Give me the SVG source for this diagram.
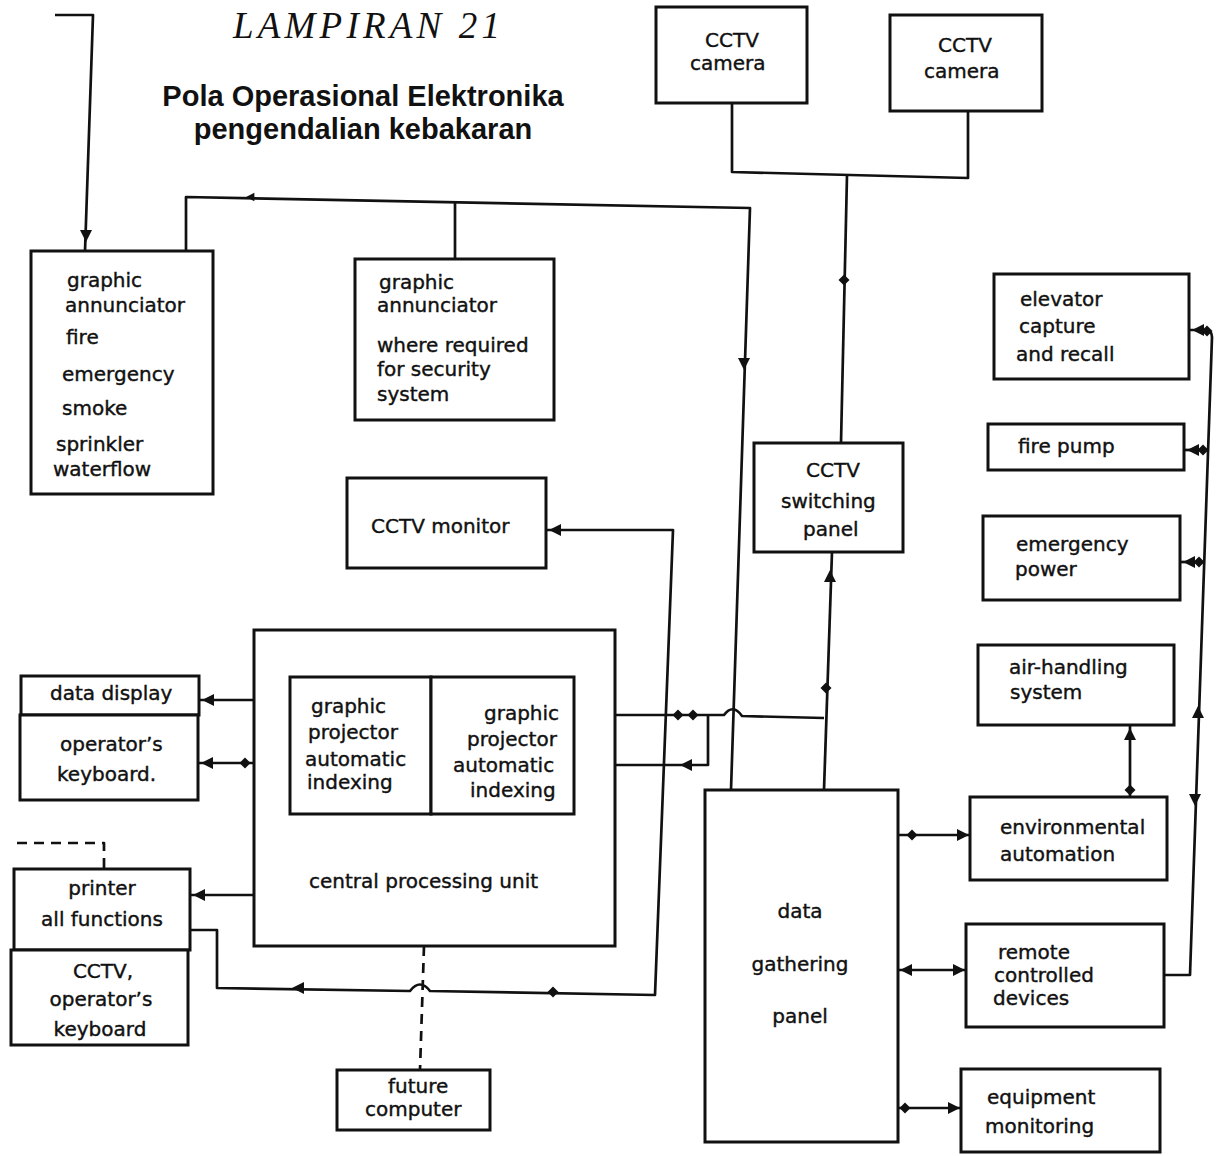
<svg xmlns="http://www.w3.org/2000/svg" xmlns:xlink="http://www.w3.org/1999/xlink" width="1221" height="1156" viewBox="0 0 1221 1156">
  <style>
    .box { fill: #fff; stroke: #111; stroke-width: 3; }
    .ln { fill: none; stroke: #111; stroke-width: 2.7; stroke-linejoin: round; }
    .dash { stroke-dasharray: 10 7; }
    .t { font-family: "DejaVu Sans", "Noto Sans", sans-serif; font-size: 20px; fill: #111; stroke: #111; stroke-width: 0.4; }
    .mk { fill: #111; }
    .title { font-family: "Liberation Sans", Arial, sans-serif; font-weight: bold; font-size: 29px; fill: #111; }
    .head { font-family: "Liberation Serif", serif; font-style: italic; font-size: 37px; fill: #111; }
  </style>
  <defs>
    <!-- arrowhead pointing along +x, tip at origin -->
    <path id="ah" class="mk" d="M0,0 L-12,-6 L-12,6 Z"/>
    <!-- small diamond junction marker -->
    <path id="dm" class="mk" d="M0,-5.5 L5.5,0 L0,5.5 L-5.5,0 Z"/>
  </defs>

  <rect width="1221" height="1156" fill="#fff"/>

  <!-- headings -->
  <text class="head" x="233" y="38" textLength="267" lengthAdjust="spacing">LAMPIRAN 21</text>
  <text class="title" x="363" y="106" text-anchor="middle">Pola Operasional Elektronika</text>
  <text class="title" x="363" y="139" text-anchor="middle">pengendalian kebakaran</text>

  <!-- connectors -->
  <g id="connectors">
    <path class="ln" d="M55,15 H93 L85,251"/>
    <path class="ln" d="M186,251 V197 L750,208 L731,790"/>
    <path class="ln" d="M455,202 V259"/>
    <path class="ln" d="M732,103 V172 L968,178 V111"/>
    <path class="ln" d="M847,175 L841,443"/>
    <path class="ln" d="M832,552 L824,790"/>
    <path class="ln" d="M615,715 H724 Q733,703 742,716 L824,718"/>
    <path class="ln" d="M574,765 H708 V715"/>
    <path class="ln" d="M546,530 H673 L655,995 L430,991 Q420,978 410,991 L217,988 V930 H190"/>
    <path class="ln" d="M199,700 H254"/>
    <path class="ln" d="M198,763 H254"/>
    <path class="ln" d="M190,895 H254"/>
    <path class="ln dash" d="M17,843 H104 V869"/>
    <path class="ln dash" d="M424,946 L420,1070"/>
    <path class="ln" d="M898,835 H970"/>
    <path class="ln" d="M898,970 H966"/>
    <path class="ln" d="M898,1108 H961"/>
    <path class="ln" d="M1130,725 V797"/>
    <path class="ln" d="M1189,330 H1205 Q1212,330 1212,337 L1190,975 H1164"/>
    <path class="ln" d="M1184,450 H1208"/>
    <path class="ln" d="M1180,562 H1204"/>

    <use xlink:href="#ah" transform="translate(86,242) rotate(90)"/>
    <use xlink:href="#ah" transform="translate(246,197) rotate(180) scale(0.7)"/>
    <use xlink:href="#ah" transform="translate(744,370) rotate(90)"/>
    <use xlink:href="#dm" transform="translate(844,280)"/>
    <use xlink:href="#ah" transform="translate(830,570) rotate(-90)"/>
    <use xlink:href="#dm" transform="translate(826,688)"/>
    <use xlink:href="#ah" transform="translate(549,530) rotate(180)"/>
    <use xlink:href="#ah" transform="translate(292,988) rotate(180)"/>
    <use xlink:href="#dm" transform="translate(553,992)"/>
    <use xlink:href="#ah" transform="translate(202,700) rotate(180)"/>
    <use xlink:href="#ah" transform="translate(201,763) rotate(180)"/>
    <use xlink:href="#dm" transform="translate(245,763)"/>
    <use xlink:href="#ah" transform="translate(193,895) rotate(180)"/>
    <use xlink:href="#dm" transform="translate(678,715)"/>
    <use xlink:href="#dm" transform="translate(693,715)"/>
    <use xlink:href="#ah" transform="translate(680,765) rotate(180)"/>
    <use xlink:href="#ah" transform="translate(1192,330) rotate(180)"/>
    <use xlink:href="#dm" transform="translate(1207,331)"/>
    <use xlink:href="#ah" transform="translate(1187,450) rotate(180)"/>
    <use xlink:href="#dm" transform="translate(1203,450)"/>
    <use xlink:href="#ah" transform="translate(1183,562) rotate(180)"/>
    <use xlink:href="#dm" transform="translate(1199,562)"/>
    <use xlink:href="#ah" transform="translate(1198,706) rotate(-90)"/>
    <use xlink:href="#ah" transform="translate(1195,806) rotate(90)"/>
    <use xlink:href="#ah" transform="translate(1130,728) rotate(-90)"/>
    <use xlink:href="#dm" transform="translate(1130,790)"/>
    <use xlink:href="#dm" transform="translate(912,835)"/>
    <use xlink:href="#ah" transform="translate(969,835)"/>
    <use xlink:href="#ah" transform="translate(900,970) rotate(180)"/>
    <use xlink:href="#ah" transform="translate(965,970)"/>
    <use xlink:href="#dm" transform="translate(905,1108)"/>
    <use xlink:href="#ah" transform="translate(960,1108)"/>
  </g>

  <!-- nodes -->
  <g id="annunciator-fire">
    <rect class="box" x="31" y="251" width="182" height="243"/>
    <text class="t" x="67" y="287">graphic</text>
    <text class="t" x="65" y="312">annunciator</text>
    <text class="t" x="66" y="344">fire</text>
    <text class="t" x="62" y="381">emergency</text>
    <text class="t" x="62" y="415">smoke</text>
    <text class="t" x="56" y="451">sprinkler</text>
    <text class="t" x="53" y="476">waterflow</text>
  </g>

  <g id="annunciator-security">
    <rect class="box" x="355" y="259" width="199" height="161"/>
    <text class="t" x="379" y="289">graphic</text>
    <text class="t" x="377" y="312">annunciator</text>
    <text class="t" x="377" y="352">where required</text>
    <text class="t" x="377" y="376">for security</text>
    <text class="t" x="377" y="401">system</text>
  </g>

  <g id="cctv-monitor">
    <rect class="box" x="347" y="478" width="199" height="90"/>
    <text class="t" x="371" y="533">CCTV monitor</text>
  </g>

  <g id="cctv-camera-1">
    <rect class="box" x="656" y="7" width="151" height="96"/>
    <text class="t" x="705" y="47">CCTV</text>
    <text class="t" x="690" y="70">camera</text>
  </g>

  <g id="cctv-camera-2">
    <rect class="box" x="890" y="15" width="152" height="96"/>
    <text class="t" x="938" y="52">CCTV</text>
    <text class="t" x="924" y="78">camera</text>
  </g>

  <g id="cctv-switching-panel">
    <rect class="box" x="754" y="443" width="149" height="109"/>
    <text class="t" x="806" y="477">CCTV</text>
    <text class="t" x="781" y="508">switching</text>
    <text class="t" x="803" y="536">panel</text>
  </g>

  <g id="elevator">
    <rect class="box" x="994" y="274" width="195" height="105"/>
    <text class="t" x="1020" y="306">elevator</text>
    <text class="t" x="1019" y="333">capture</text>
    <text class="t" x="1016" y="361">and recall</text>
  </g>

  <g id="fire-pump">
    <rect class="box" x="988" y="424" width="196" height="46"/>
    <text class="t" x="1018" y="453">fire pump</text>
  </g>

  <g id="emergency-power">
    <rect class="box" x="983" y="516" width="197" height="84"/>
    <text class="t" x="1016" y="551">emergency</text>
    <text class="t" x="1015" y="576">power</text>
  </g>

  <g id="air-handling">
    <rect class="box" x="978" y="645" width="196" height="80"/>
    <text class="t" x="1009" y="674">air-handling</text>
    <text class="t" x="1010" y="699">system</text>
  </g>

  <g id="environmental-automation">
    <rect class="box" x="970" y="797" width="197" height="83"/>
    <text class="t" x="1000" y="834">environmental</text>
    <text class="t" x="1000" y="861">automation</text>
  </g>

  <g id="remote-devices">
    <rect class="box" x="966" y="924" width="198" height="103"/>
    <text class="t" x="998" y="959">remote</text>
    <text class="t" x="994" y="982">controlled</text>
    <text class="t" x="993" y="1005">devices</text>
  </g>

  <g id="equipment-monitoring">
    <rect class="box" x="961" y="1069" width="199" height="83"/>
    <text class="t" x="987" y="1104">equipment</text>
    <text class="t" x="985" y="1133">monitoring</text>
  </g>

  <g id="data-gathering-panel">
    <rect class="box" x="705" y="790" width="193" height="352"/>
    <text class="t" x="800" y="918" text-anchor="middle">data</text>
    <text class="t" x="800" y="971" text-anchor="middle">gathering</text>
    <text class="t" x="800" y="1023" text-anchor="middle">panel</text>
  </g>

  <g id="central-processing-unit">
    <rect class="box" x="254" y="630" width="361" height="316"/>
    <text class="t" x="309" y="888">central processing unit</text>
  </g>

  <g id="graphic-projector-1">
    <rect class="box" x="290" y="677" width="141" height="137"/>
    <text class="t" x="311" y="713">graphic</text>
    <text class="t" x="308" y="739">projector</text>
    <text class="t" x="305" y="766">automatic</text>
    <text class="t" x="307" y="789">indexing</text>
  </g>

  <g id="graphic-projector-2">
    <rect class="box" x="431" y="677" width="143" height="137"/>
    <text class="t" x="484" y="720">graphic</text>
    <text class="t" x="467" y="746">projector</text>
    <text class="t" x="453" y="772">automatic</text>
    <text class="t" x="470" y="797">indexing</text>
  </g>

  <g id="data-display">
    <rect class="box" x="21" y="676" width="178" height="39"/>
    <text class="t" x="50" y="700">data display</text>
  </g>

  <g id="operators-keyboard">
    <rect class="box" x="20" y="715" width="178" height="85"/>
    <text class="t" x="60" y="751">operator’s</text>
    <text class="t" x="57" y="781">keyboard.</text>
  </g>

  <g id="printer">
    <rect class="box" x="14" y="869" width="176" height="81"/>
    <text class="t" x="102" y="895" text-anchor="middle">printer</text>
    <text class="t" x="102" y="926" text-anchor="middle">all functions</text>
  </g>

  <g id="cctv-keyboard">
    <rect class="box" x="11" y="950" width="177" height="95"/>
    <text class="t" x="103" y="978" text-anchor="middle">CCTV,</text>
    <text class="t" x="101" y="1006" text-anchor="middle">operator’s</text>
    <text class="t" x="100" y="1036" text-anchor="middle">keyboard</text>
  </g>

  <g id="future-computer">
    <rect class="box" x="337" y="1070" width="153" height="60"/>
    <text class="t" x="388" y="1093">future</text>
    <text class="t" x="365" y="1116">computer</text>
  </g>
</svg>
